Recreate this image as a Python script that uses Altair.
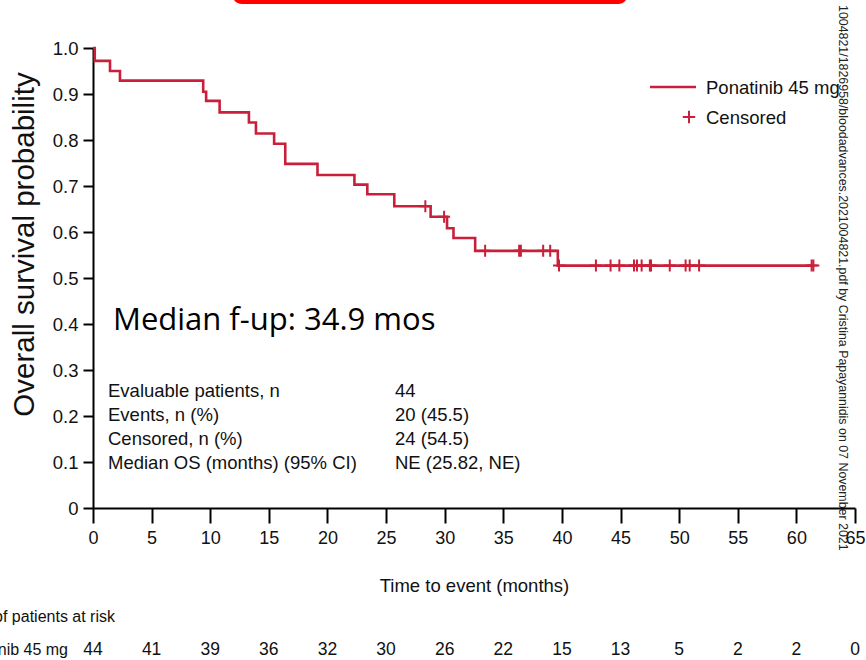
import altair as alt
import pandas as pd

# ---- Kaplan-Meier curve: event times (months) and survival just after each event
event_months = [0.15, 1.45, 2.3, 9.4, 9.65, 10.8, 13.3, 13.9, 15.45, 16.4,
                19.15, 22.3, 23.4, 25.7, 28.8, 30.2, 30.75, 32.6, 39.65]
survival_after = [0.972, 0.950, 0.929, 0.905, 0.885, 0.860, 0.838, 0.814, 0.792, 0.748,
                  0.724, 0.703, 0.682, 0.656, 0.633, 0.608, 0.587, 0.559, 0.527]

# ---- censored observations (months)
censor_months = [28.35, 29.95, 33.45, 36.35, 36.5, 38.4, 39.0, 39.75, 42.9, 44.15,
                 44.9, 46.15, 46.4, 46.8, 47.5, 47.6, 49.2, 50.55, 50.9, 51.7,
                 61.3, 61.45]

# ---- number at risk table
risk_months = [0, 5, 10, 15, 20, 25, 30, 35, 40, 45, 50, 55, 60, 65]
at_risk = [44, 41, 39, 36, 32, 30, 26, 22, 15, 13, 5, 2, 2, 0]

# ---- summary statistics
stats_labels = ["Evaluable patients, n", "Events, n (%)", "Censored, n (%)",
                "Median OS (months) (95% CI)"]
stats_values = ["44", "20 (45.5)", "24 (54.5)", "NE (25.82, NE)"]

x_ticks = risk_months
y_ticks = [0, 0.1, 0.2, 0.3, 0.4, 0.5, 0.6, 0.7, 0.8, 0.9, 1.0]

arm_name = "Ponatinib 45 mg"
followup_note = "Median f-up: 34.9 mos"
watermark = ("1004821/1826958/bloodadvances.2021004821.pdf by Cristina "
             "Papayannidis on 07 November 2021")

RED = "#c8203a"
INK = "#111111"
FONT = "Liberation Sans"
W, H = 762, 460


def level_at(t):
    s = 1.0
    for et, sv in zip(event_months, survival_after):
        if et <= t:
            s = sv
    return s


curve = pd.DataFrame({
    "month": [0.0] + event_months + [censor_months[-1]],
    "surv": [1.0] + survival_after + [survival_after[-1]],
})
censors = pd.DataFrame({
    "month": censor_months,
    "surv": [level_at(t) for t in censor_months],
})
risk = pd.DataFrame({"month": risk_months, "n": at_risk})
one = alt.Data(values=[{"k": 1}])

x_scale = alt.Scale(domain=[0, 65], nice=False, zero=False)
y_scale = alt.Scale(domain=[0, 1], nice=False, zero=False)

x_axis = alt.Axis(
    values=x_ticks, title="Time to event (months)", grid=False,
    domainColor="black", domainWidth=2, tickColor="black", tickWidth=2,
    tickSize=15, labelFont=FONT, labelFontSize=18, labelColor=INK,
    labelPadding=6, labelFlush=False, labelOverlap=False,
    titleFont=FONT, titleFontSize=18.5, titleFontWeight="normal",
    titleColor=INK, titleY=68,
)
y_axis = alt.Axis(
    values=y_ticks, title="Overall survival probability", grid=False,
    labelExpr="datum.value == 0 ? '0' : format(datum.value, '.1f')",
    domainColor="black", domainWidth=2, tickColor="black", tickWidth=2,
    tickSize=10, labelFont=FONT, labelFontSize=18.5, labelColor=INK,
    labelPadding=5, labelOverlap=False,
    titleFont=FONT, titleFontSize=29.5, titleFontWeight="normal",
    titleColor=INK, titleAngle=270, titleAlign="center",
    titleBaseline="middle", titleX=-69, titleY=196,
)

X = alt.X("month:Q", scale=x_scale, axis=x_axis)
Y = alt.Y("surv:Q", scale=y_scale, axis=y_axis)

PLUS = "M0,-1L0,1M-1,0L1,0"

line = alt.Chart(curve).mark_line(
    interpolate="step-after", color=RED, strokeWidth=2.6
).encode(x=X, y=Y)

ticks = alt.Chart(censors).mark_point(
    shape=PLUS, size=144, filled=False, color=RED, strokeWidth=2, opacity=1
).encode(x=X, y=Y)

# legend
legend_line = alt.Chart(one).mark_rule(color=RED, strokeWidth=2.6).encode(
    x=alt.value(557), x2=alt.value(603), y=alt.value(39)
)
legend_plus = alt.Chart(one).mark_point(
    shape=PLUS, size=156, filled=False, color=RED, strokeWidth=2, opacity=1
).encode(x=alt.value(596), y=alt.value(69))
legend_text = alt.Chart(one).mark_text(
    align="left", baseline="alphabetic", font=FONT, fontSize=18.5, color=INK,
    lineBreak="\n", lineHeight=30,
).encode(x=alt.value(613), y=alt.value(45.5),
         text=alt.value(arm_name + "\nCensored"))

# follow-up note and statistics box
note = alt.Chart(one).mark_text(
    align="left", baseline="alphabetic", font="Open Sans", fontSize=31, color="#000000"
).encode(x=alt.value(20), y=alt.value(282), text=alt.value(followup_note))

stats_left = alt.Chart(one).mark_text(
    align="left", baseline="alphabetic", font=FONT, fontSize=18.5, color=INK,
    lineBreak="\n", lineHeight=24,
).encode(x=alt.value(15), y=alt.value(348.5),
         text=alt.value("\n".join(stats_labels)))
stats_right = alt.Chart(one).mark_text(
    align="left", baseline="alphabetic", font=FONT, fontSize=18.5, color=INK,
    lineBreak="\n", lineHeight=24,
).encode(x=alt.value(302), y=alt.value(348.5),
         text=alt.value("\n".join(stats_values)))

# number-at-risk table
risk_title = alt.Chart(one).mark_text(
    align="right", baseline="alphabetic", font=FONT, fontSize=16, color=INK
).encode(x=alt.value(22), y=alt.value(573.5),
         text=alt.value("No. of patients at risk"))
risk_arm = alt.Chart(one).mark_text(
    align="right", baseline="alphabetic", font=FONT, fontSize=16, color=INK
).encode(x=alt.value(-25), y=alt.value(607), text=alt.value(arm_name))
risk_numbers = alt.Chart(risk).mark_text(
    align="center", baseline="alphabetic", font=FONT, fontSize=17.5, color=INK
).encode(x=X, y=alt.value(607), text="n:Q")

# banner edge and download stamp
banner = alt.Chart(one).mark_rect(
    color="#ff0000", cornerRadius=10
).encode(x=alt.value(139), x2=alt.value(535), y=alt.value(-90), y2=alt.value(-44))
stamp = alt.Chart(one).mark_text(
    align="left", baseline="middle", angle=90, font=FONT, fontSize=12.4, color="#222222"
).encode(x=alt.value(750), y=alt.value(-43), text=alt.value(watermark))

chart = alt.layer(
    banner, line, ticks, legend_line, legend_plus, legend_text, note,
    stats_left, stats_right, risk_title, risk_arm, risk_numbers, stamp,
).properties(
    width=W, height=H,
    autosize=alt.AutoSizeParams(type="none"),
    padding={"left": 93, "top": 48, "right": 11, "bottom": 152},
    background="white",
).configure_view(stroke=None)

chart.save("out.html", embed_options={"renderer": "svg", "actions": False})
